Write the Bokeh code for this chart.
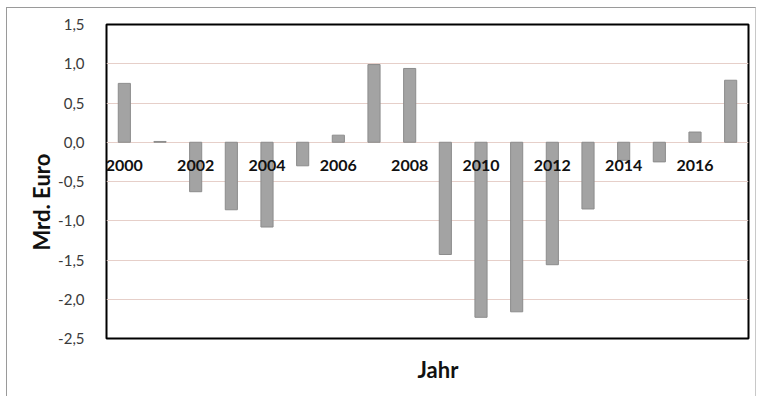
from bokeh.plotting import figure
from bokeh.models import Range1d, FixedTicker, ColumnDataSource, Title
from bokeh.core.properties import value
from bokeh.embed import file_html
from bokeh.resources import INLINE

years = list(range(2000, 2018))
values = [0.75, 0.01, -0.63, -0.86, -1.08, -0.30, 0.09, 0.99, 0.94,
          -1.43, -2.23, -2.16, -1.56, -0.85, -0.23, -0.25, 0.13, 0.79]
label_years = [2000, 2002, 2004, 2006, 2008, 2010, 2012, 2014, 2016]
y_ticks = [-2.5, -2.0, -1.5, -1.0, -0.5, 0.0, 0.5, 1.0, 1.5]
y_tick_labels = ["-2,5", "-2,0", "-1,5", "-1,0", "-0,5", "0,0", "0,5", "1,0", "1,5"]

p = figure(width=750, height=389, output_backend="svg", toolbar_location=None,
           x_range=Range1d(1999.5, 2017.5), y_range=Range1d(-2.5, 1.5),
           min_border_left=99, min_border_right=9, min_border_top=16,
           min_border_bottom=58)
p.margin = (7, 0, 0, 6)
p.styles = {"border-left": "1.5px solid #9a9a9a",
            "border-top": "1.5px solid #9a9a9a",
            "border-right": "1.5px solid #c8c8c8"}

p.outline_line_color = "black"
p.outline_line_width = 2
p.background_fill_color = "white"
p.border_fill_color = "white"

# grid
p.ygrid.ticker = FixedTicker(ticks=y_ticks)
p.ygrid.grid_line_color = "#e6cfc9"
p.ygrid.grid_line_width = 1
p.xgrid.grid_line_color = None

src = ColumnDataSource(dict(year=years, val=values))
p.vbar(x="year", top="val", bottom=0, width=0.34, source=src,
       fill_color="#a3a3a3", line_color="#8c8c8c", line_width=1)

lab = ColumnDataSource(dict(x=label_years, y=[0] * len(label_years),
                            t=[str(y) for y in label_years]))
p.text(x="x", y="y", text="t", source=lab, text_align="center",
       text_baseline="middle", y_offset=23, text_font=value("Lato"),
       text_font_style="bold", text_font_size="16px", text_color="#111111")

# y axis
ya = p.yaxis[0]
ya.ticker = FixedTicker(ticks=y_ticks)
ya.major_label_overrides = {t: s for t, s in zip(y_ticks, y_tick_labels)}
ya.axis_line_color = None
ya.major_tick_line_color = None
ya.minor_tick_line_color = None
ya.major_label_standoff = 16
ya.major_label_text_font = "Lato"
ya.major_label_text_font_size = "15px"
ya.major_label_text_color = "#3a3a3a"

# x axis
xa = p.xaxis[0]
xa.ticker = FixedTicker(ticks=[])
xa.axis_line_color = None
xa.major_tick_line_color = None
xa.minor_tick_line_color = None

p.add_layout(Title(text="Mrd. Euro", align="left", offset=88, standoff=2,
                   text_font="Lato", text_font_style="bold",
                   text_font_size="22px", text_color="#111111"), "left")
p.add_layout(Title(text="Jahr", align="left", offset=311, standoff=30,
                   text_font="Lato", text_font_style="bold",
                   text_font_size="22px", text_color="#111111"), "below")

open("out.html", "w").write(file_html(p, INLINE))
